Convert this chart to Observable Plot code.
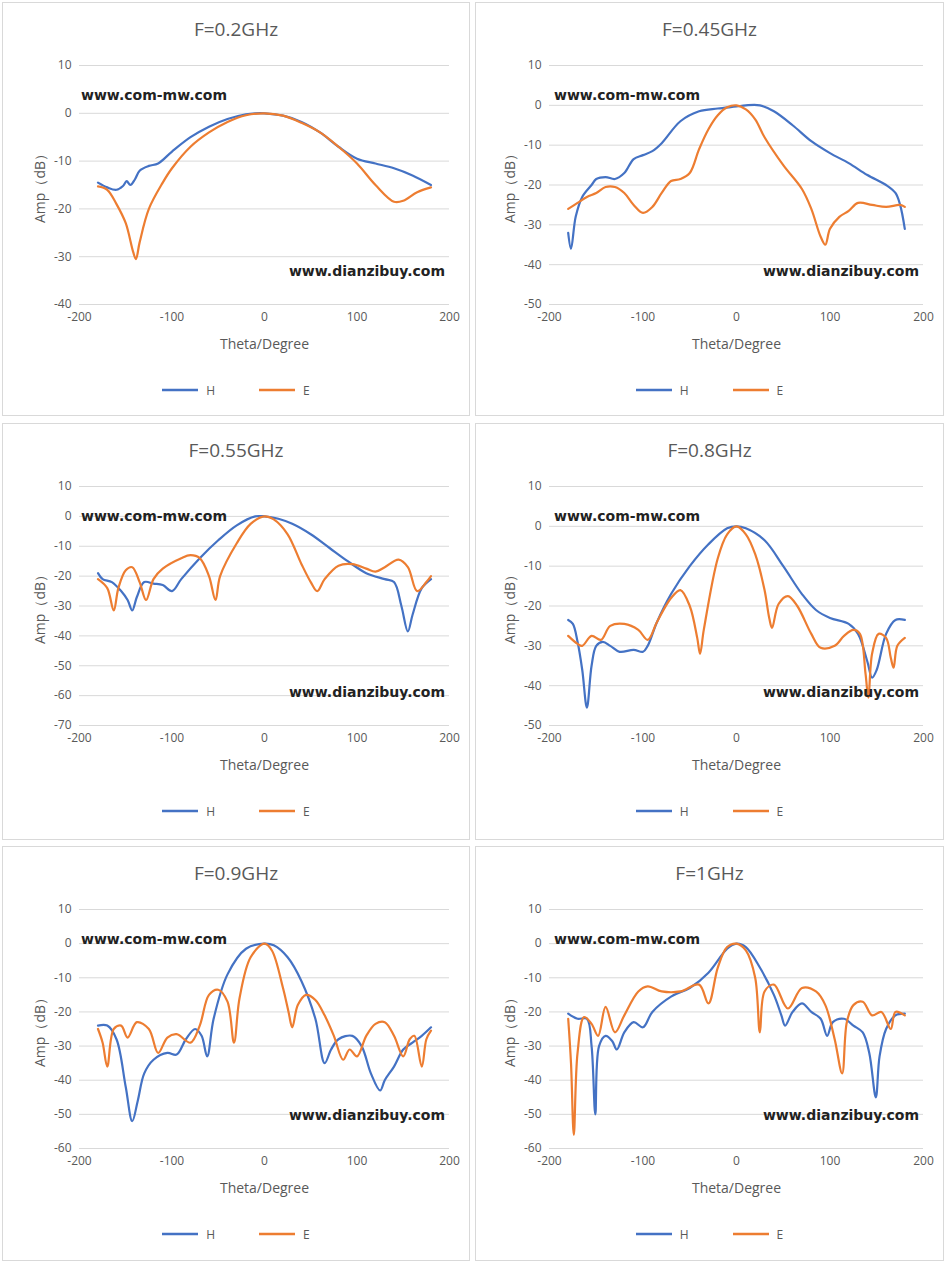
<!DOCTYPE html>
<html><head><meta charset="utf-8">
<script src="https://cdn.jsdelivr.net/npm/d3@7"></script>
<script src="https://cdn.jsdelivr.net/npm/@observablehq/plot@0.6"></script>
<style>
body{margin:0;background:#fff;font-family:"Open Sans","Liberation Sans",sans-serif;}
.panel{position:absolute;border:1px solid #d9d9d9;box-sizing:border-box;background:#fff;}
.title{position:absolute;left:0;right:0;top:13px;text-align:center;font-size:19px;color:#595959;}
.svgwrap{position:absolute;left:0;top:50px;}
.wm1{position:absolute;left:78px;top:84px;font-size:14px;font-weight:600;color:#222;font-family:"DejaVu Sans",sans-serif;}
.wm2{position:absolute;right:24px;top:260px;font-size:14px;font-weight:600;color:#222;font-family:"DejaVu Sans",sans-serif;}
.legend{position:absolute;left:0;right:0;top:378px;text-align:center;font-size:12px;color:#595959;}
.legend span{display:inline-block;vertical-align:middle;}
</style></head><body>
<div id="root"></div>
<script>
const titles = ["F=0.2GHz","F=0.45GHz","F=0.55GHz","F=0.8GHz","F=0.9GHz","F=1GHz"];
const yDomains = [[-40,10],[-50,10],[-70,10],[-50,10],[-60,10],[-60,10]];
const xTicks = [-200,-100,0,100,200];
const seriesNames = ["H","E"];
const colors = ["#4472C4","#ED7D31"];

const h02=[[-180,-14.5],[-170,-15.5],[-160,-16],[-153,-15.2],[-149,-14.2],[-145,-15],[-140,-13.8],[-135,-12],[-125,-11],[-115,-10.5],[-100,-8],[-80,-5],[-60,-2.8],[-40,-1.2],[-20,-0.2],[-10,0],[0,0],[20,-0.5],[40,-1.8],[60,-4],[80,-7],[100,-9.5],[120,-10.5],[140,-11.5],[160,-13],[180,-15]];
const e02=[[-180,-15.3],[-170,-16],[-160,-19],[-150,-23],[-142,-29],[-139,-30.5],[-135,-27],[-125,-20],[-110,-14.5],[-100,-11.5],[-80,-7],[-60,-4],[-40,-1.8],[-20,-0.4],[0,0],[20,-0.5],[40,-2],[60,-4],[80,-7],[100,-10.5],[120,-15],[140,-18.5],[150,-18.3],[165,-16.5],[180,-15.5]];
const h045=[[-180,-32],[-177,-36],[-172,-28],[-165,-23],[-155,-20],[-150,-18.5],[-140,-18],[-130,-18.5],[-120,-17],[-110,-13.5],[-100,-12.5],[-90,-11.5],[-80,-9.5],[-60,-4],[-40,-1.5],[-20,-0.8],[0,-0.3],[10,0],[25,0],[40,-1.5],[60,-5],[80,-9],[100,-12],[120,-14.5],[140,-17.5],[160,-20],[170,-22],[175,-25],[180,-31]];
const e045=[[-180,-26],[-170,-24.5],[-160,-23],[-150,-22],[-140,-20.5],[-130,-20.5],[-120,-22],[-110,-25],[-100,-27],[-90,-25.5],[-80,-22],[-70,-19],[-60,-18.5],[-50,-17],[-40,-11],[-30,-6],[-20,-2.5],[-10,-0.5],[0,0],[10,-1],[20,-3.5],[30,-8],[50,-15],[70,-21],[80,-26],[90,-33],[95,-35],[100,-31],[110,-28],[120,-26.5],[130,-24.5],[145,-25],[160,-25.5],[175,-25],[180,-25.5]];
const h055=[[-180,-19],[-175,-21],[-165,-22],[-155,-25],[-148,-28],[-143,-31.5],[-138,-27],[-130,-22],[-120,-22.5],[-110,-23],[-100,-25],[-90,-21],[-70,-14],[-50,-8],[-30,-3],[-10,0],[0,0],[15,-0.8],[30,-2.5],[50,-6],[70,-10.5],[90,-15],[110,-19],[130,-21],[140,-22],[148,-30],[155,-38.5],[160,-33],[170,-24],[180,-21]];
const e055=[[-180,-21],[-170,-24],[-163,-31.5],[-158,-24],[-150,-18],[-143,-17],[-135,-22],[-128,-28],[-120,-21],[-110,-17.5],[-90,-14],[-80,-13],[-70,-14],[-60,-20],[-53,-28],[-48,-20],[-30,-9],[-15,-2.5],[0,0],[10,-1],[25,-6],[40,-16],[50,-22],[57,-25],[65,-21],[80,-16.5],[95,-16],[110,-17.5],[120,-18.5],[130,-17],[145,-14.5],[155,-17],[165,-25],[175,-22],[180,-20]];
const h08=[[-180,-23.5],[-175,-24.5],[-170,-29],[-165,-36],[-160,-45.5],[-155,-35],[-150,-30],[-143,-29],[-135,-30],[-125,-31.5],[-110,-31],[-100,-31.5],[-95,-30],[-85,-24],[-70,-17],[-50,-10],[-30,-4.5],[-10,-0.5],[0,0],[10,-0.5],[30,-3.5],[50,-10],[70,-17],[85,-21],[100,-23],[120,-24.5],[130,-27],[140,-34],[145,-38],[150,-36],[160,-27],[170,-23.5],[180,-23.5]];
const e08=[[-180,-27.5],[-170,-29.5],[-165,-30],[-155,-27.5],[-145,-28.5],[-135,-25],[-120,-24.5],[-105,-26],[-95,-28.5],[-85,-24],[-70,-18],[-60,-16],[-50,-20],[-42,-28],[-39,-32],[-35,-26],[-20,-8],[-10,-2],[0,0],[10,-2],[20,-7],[30,-16],[35,-23],[38,-25.5],[45,-19.5],[55,-17.5],[65,-20],[80,-27],[90,-30.5],[105,-30],[115,-27.5],[125,-26],[132,-27],[138,-37],[141,-43],[145,-32],[152,-27],[160,-28],[165,-33],[168,-35.5],[172,-30],[180,-28]];
const h09=[[-180,-24],[-170,-24],[-160,-28],[-150,-42],[-143,-52],[-137,-46],[-130,-38],[-120,-34],[-105,-32],[-95,-32.5],[-85,-28],[-75,-25],[-68,-27],[-62,-33],[-55,-22],[-40,-9],[-20,-1.5],[0,0],[10,-0.5],[25,-4],[40,-11],[55,-22],[65,-35],[72,-31],[80,-28],[95,-27],[105,-30],[115,-38],[125,-43],[130,-40],[140,-36],[150,-31],[160,-29],[170,-27],[180,-24.5]];
const e09=[[-180,-25],[-175,-29],[-170,-36],[-163,-25],[-155,-24],[-148,-27.5],[-138,-23],[-125,-25],[-115,-32],[-105,-27.5],[-95,-26.5],[-80,-29],[-70,-24],[-60,-15],[-50,-13.5],[-40,-17],[-33,-29],[-27,-16],[-15,-4],[0,0],[8,-2],[20,-13],[26,-20],[30,-24.5],[36,-18],[45,-15],[55,-16.5],[65,-21],[75,-27],[85,-34],[92,-31],[100,-33],[110,-27],[120,-23.5],[130,-23],[140,-27],[150,-33],[157,-28],[162,-27],[170,-36],[175,-28],[180,-25.5]];
const h1=[[-180,-20.5],[-170,-22],[-160,-22],[-155,-30],[-151,-50],[-147,-30],[-140,-27],[-133,-28.5],[-128,-31],[-120,-26],[-110,-23],[-100,-24.5],[-90,-20],[-70,-15.5],[-50,-13],[-30,-8.5],[-10,-1.5],[0,0],[10,-1],[25,-7],[40,-15],[48,-21],[52,-24],[60,-20],[70,-17.5],[80,-20],[90,-22],[97,-27],[103,-23],[115,-22],[125,-24],[135,-26],[142,-32],[149,-45],[153,-33],[160,-25],[170,-21],[180,-20.5]];
const e1=[[-180,-22],[-177,-35],[-174,-56],[-170,-32],[-163,-21.5],[-155,-23.5],[-148,-27],[-140,-18.5],[-130,-26],[-120,-21],[-105,-14],[-95,-12.5],[-80,-14],[-60,-14],[-40,-12],[-30,-17.5],[-20,-7],[-10,-1],[0,0],[10,-2],[20,-10],[25,-26],[30,-14],[40,-12],[55,-19],[70,-13],[85,-14],[95,-18],[105,-28],[113,-38],[118,-23],[125,-18],[135,-17],[145,-21],[155,-20],[165,-25],[170,-20],[180,-21]];

const data = [[h02,e02],[h045,e045],[h055,e055],[h08,e08],[h09,e09],[h1,e1]];
const lefts=[2,475], tops=[2,423,846], widths=[468,469], heights=[414,417,415];
const root=document.getElementById("root");
const fmt = d => String(d);

data.forEach((pair,i)=>{
  const col=i%2,row=Math.floor(i/2);
  const p=document.createElement("div");
  p.className="panel";
  Object.assign(p.style,{left:lefts[col]+"px",top:tops[row]+"px",width:widths[col]+"px",height:heights[row]+"px"});
  p.innerHTML=`<div class="title">${titles[i]}</div>`;
  const yd=yDomains[i];
  const yt=d3.range(yd[0],yd[1]+1,10);
  const rows=[];
  pair.forEach((s,k)=>s.forEach(([x,y])=>rows.push({x,y,s:seriesNames[k]})));
  const ml = col===0?76:73;
  const chart=Plot.plot({
    width:widths[col]-2,height:306,marginTop:12,marginBottom:55,marginLeft:ml,marginRight:20,
    style:{fontFamily:"Open Sans, Liberation Sans, sans-serif",fontSize:"12px",color:"#595959",background:"transparent"},
    x:{domain:[-200,200]},
    y:{domain:yd},
    color:{domain:seriesNames,range:colors},
    marks:[
      Plot.gridY(yt,{stroke:"#d9d9d9",strokeOpacity:1}),
      Plot.axisY(yt,{tickSize:0,tickPadding:8,tickFormat:fmt,fill:"#595959",label:null}),
      Plot.axisY({tickSize:0,ticks:[],label:"Amp（dB）",labelAnchor:"center",labelOffset:44,labelArrow:"none",fill:"#595959",fontSize:14}),
      Plot.axisX(xTicks,{tickSize:0,tickPadding:8,tickFormat:fmt,fill:"#595959",label:null}),
      Plot.axisX({tickSize:0,ticks:[],label:"Theta/Degree",labelAnchor:"center",labelOffset:44,labelArrow:"none",fill:"#595959",fontSize:14}),
      Plot.line(rows,{x:"x",y:"y",z:"s",stroke:"s",strokeWidth:2.2,curve:"catmull-rom"})
    ]
  });
  const w=document.createElement("div");w.className="svgwrap";w.appendChild(chart);p.appendChild(w);
  p.insertAdjacentHTML("beforeend",`<div class="wm1">www.com-mw.com</div><div class="wm2">www.dianzibuy.com</div>
  <div class="legend"><span><svg width="36" height="10"><line x1="0" y1="5" x2="36" y2="5" stroke="${colors[0]}" stroke-width="2.5"/></svg></span><span style="margin:0 44px 0 8px">H</span><span><svg width="36" height="10"><line x1="0" y1="5" x2="36" y2="5" stroke="${colors[1]}" stroke-width="2.5"/></svg></span><span style="margin-left:8px">E</span></div>`);
  root.appendChild(p);
});
</script></body></html>
